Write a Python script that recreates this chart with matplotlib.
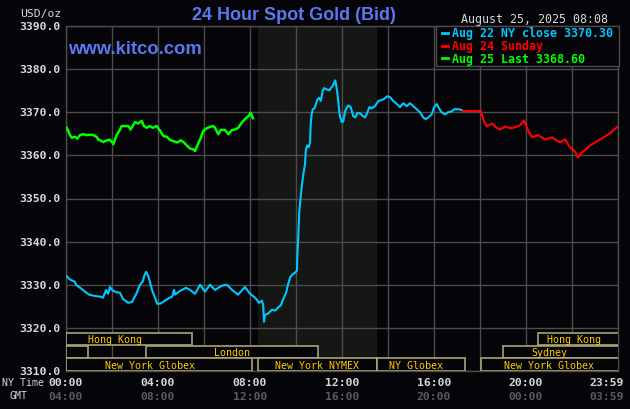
import matplotlib
matplotlib.use("Agg")
import matplotlib.pyplot as plt
import matplotlib.patches as pat

# Aug 22 (NY close) -- hours of NY time, price
blue_h = [0.00, 0.17, 0.39, 0.43, 0.61, 0.83, 1.00, 1.26, 1.52, 1.61, 1.74, 1.83, 1.91, 2.00,
          2.13, 2.35, 2.48, 2.70, 2.87, 3.04, 3.22, 3.35, 3.39, 3.48, 3.57, 3.65, 3.74, 3.87,
          3.96, 4.09, 4.22, 4.35, 4.52, 4.61, 4.70, 4.74, 4.91, 5.04, 5.22, 5.39, 5.61, 5.83,
          6.04, 6.26, 6.48, 6.78, 7.00, 7.22, 7.48, 7.78, 8.00, 8.22, 8.30, 8.39, 8.52, 8.57,
          8.61, 8.65, 8.78, 8.96, 9.09, 9.22, 9.35, 9.43, 9.57, 9.65, 9.74, 9.83, 9.96, 10.04,
          10.06, 10.10, 10.14, 10.20, 10.26, 10.32, 10.39, 10.43, 10.49, 10.55, 10.61, 10.64,
          10.68, 10.73, 10.80, 10.87, 10.93, 11.01, 11.07, 11.12, 11.16, 11.22, 11.33, 11.45,
          11.55, 11.62, 11.67, 11.70, 11.74, 11.80, 11.84, 11.88, 11.91, 11.99, 12.06, 12.13,
          12.27, 12.38, 12.49, 12.57, 12.67, 12.78, 12.86, 13.00, 13.07, 13.19, 13.29, 13.43,
          13.58, 13.80, 13.97, 14.09, 14.23, 14.38, 14.45, 14.52, 14.67, 14.81, 14.96, 15.10,
          15.25, 15.39, 15.53, 15.64, 15.75, 15.90, 16.01, 16.12, 16.22, 16.33, 16.48, 16.62,
          16.77, 16.88, 17.06, 17.20, 17.27]
blue_p = [3332.1, 3331.2, 3330.7, 3330.0, 3329.3, 3328.4, 3327.7, 3327.4, 3327.2, 3327.0, 3328.8,
          3327.9, 3329.5, 3328.8, 3328.4, 3328.1, 3326.7, 3325.8, 3326.0, 3327.7, 3330.0, 3330.9,
          3331.9, 3333.0, 3332.1, 3330.7, 3328.8, 3327.0, 3325.6, 3325.6, 3326.0, 3326.5, 3327.0,
          3327.2, 3328.8, 3327.7, 3328.4, 3328.8, 3329.3, 3328.8, 3327.9, 3330.0, 3328.4, 3330.0,
          3328.8, 3329.8, 3330.0, 3328.8, 3327.7, 3329.5, 3327.9, 3327.0, 3326.5, 3325.8, 3326.3,
          3325.3, 3321.4, 3323.0, 3323.3, 3324.2, 3324.0, 3324.7, 3325.3, 3326.5, 3328.1, 3330.0,
          3331.6, 3332.3, 3332.8, 3333.3, 3337.0, 3341.2, 3346.7, 3350.2, 3353.3, 3355.6, 3357.9,
          3361.4, 3362.3, 3361.9, 3363.0, 3367.2, 3369.5, 3370.7, 3370.9, 3371.9, 3373.0, 3373.3,
          3372.6, 3373.7, 3374.9, 3375.6, 3375.3, 3375.1, 3375.8, 3376.3, 3377.0, 3377.4, 3376.5,
          3374.4, 3372.3, 3370.2, 3369.1, 3367.7, 3367.9, 3370.2, 3371.6, 3371.2, 3369.1, 3368.8,
          3369.8, 3369.8, 3369.3, 3368.8, 3369.5, 3371.2, 3370.9, 3371.4, 3372.6, 3373.0, 3373.7,
          3373.5, 3372.6, 3371.9, 3371.6, 3371.2, 3372.1, 3371.4, 3372.1, 3371.4, 3370.7, 3370.0,
          3368.8, 3368.4, 3368.8, 3369.5, 3371.2, 3371.9, 3370.9, 3370.0, 3369.5, 3370.0, 3370.2,
          3370.7, 3370.7, 3370.5, 3370.3]

# Aug 24 Sunday
red_h = [17.27, 18.04, 18.17, 18.30, 18.52, 18.70, 18.87, 19.09, 19.30, 19.52, 19.74, 19.91,
         20.09, 20.26, 20.52, 20.83, 21.13, 21.48, 21.70, 21.91, 22.13, 22.26, 22.43, 22.61,
         22.78, 23.00, 23.22, 23.43, 23.65, 23.83, 24.00]
red_p = [3370.3, 3370.3, 3367.9, 3366.7, 3367.4, 3366.5, 3366.0, 3366.7, 3366.3, 3366.5, 3367.0,
         3368.1, 3365.8, 3364.2, 3364.7, 3363.7, 3364.2, 3363.0, 3363.7, 3361.9, 3360.9, 3359.5,
         3360.7, 3361.4, 3362.3, 3363.0, 3363.7, 3364.4, 3365.1, 3366.0, 3366.7]

# Aug 25 (today)
green_h = [0.03, 0.10, 0.17, 0.25, 0.39, 0.49, 0.61, 0.75, 0.90, 1.04, 1.19, 1.33, 1.40, 1.55,
           1.62, 1.77, 1.91, 2.01, 2.06, 2.13, 2.20, 2.32, 2.42, 2.57, 2.71, 2.81, 2.90, 3.00,
           3.14, 3.29, 3.39, 3.51, 3.65, 3.77, 3.94, 4.09, 4.23, 4.38, 4.52, 4.67, 4.84, 4.99,
           5.13, 5.25, 5.39, 5.53, 5.61, 5.71, 5.83, 5.97, 6.12, 6.26, 6.40, 6.48, 6.62, 6.73,
           6.91, 7.06, 7.20, 7.35, 7.49, 7.64, 7.78, 7.93, 8.03, 8.13]
green_p = [3366.4, 3365.7, 3364.7, 3364.1, 3364.3, 3363.9, 3364.7, 3364.9, 3364.7, 3364.8, 3364.7,
           3364.3, 3363.7, 3363.3, 3363.1, 3363.5, 3363.6, 3363.0, 3362.6, 3363.7, 3364.7, 3365.7,
           3366.8, 3366.8, 3366.8, 3366.0, 3366.8, 3367.7, 3367.4, 3368.0, 3366.8, 3366.4, 3366.8,
           3366.4, 3366.8, 3365.7, 3364.5, 3364.3, 3363.6, 3363.3, 3363.0, 3363.5, 3363.0, 3362.3,
           3361.6, 3361.4, 3361.0, 3362.3, 3363.7, 3365.7, 3366.3, 3366.6, 3366.8, 3366.4, 3364.9,
           3365.9, 3365.9, 3364.9, 3365.8, 3366.0, 3366.4, 3367.6, 3368.4, 3369.1, 3369.9, 3368.6]

legend_labels = ["Aug 22 NY close 3370.30", "Aug 24 Sunday", "Aug 25 Last 3368.60"]
y_ticks = [3310, 3320, 3330, 3340, 3350, 3360, 3370, 3380, 3390]
ny_ticks = [0, 4, 8, 12, 16, 20]
ny_labels = ["00:00", "04:00", "08:00", "12:00", "16:00", "20:00"]
gmt_labels = ["04:00", "08:00", "12:00", "16:00", "20:00", "00:00"]
nymex_span = (8.33, 13.5)

# trading sessions: (row, start, end, label, label_x)
sessions = [
    (0, 0.0, 5.48, "Hong Kong", 2.13),
    (0, 20.5, 24.3, "Hong Kong", 22.1),
    (1, 0.0, 0.96, "", 0),
    (1, 3.48, 10.96, "London", 7.2),
    (1, 19.0, 24.3, "Sydney", 21.0),
    (2, 0.0, 8.1, "New York Globex", 3.65),
    (2, 8.33, 13.5, "New York NYMEX", 10.9),
    (2, 13.5, 17.35, "NY Globex", 15.2),
    (2, 18.05, 24.3, "New York Globex", 21.0),
]
row_y = [(3316.1, 3318.9), (3313.1, 3315.9), (3310.1, 3312.9)]

BG = "#050408"
GRID = "#4c4c4c"
BLUE = "#00c8ff"
RED = "#ff0000"
GREEN = "#00ff00"
GOLD = "#ffcc00"
BOX = "#a8a474"
TXT = "#d8d8d8"
MONO = "DejaVu Sans Mono"

W, H = 630, 410
fig = plt.figure(figsize=(W / 100, H / 100), dpi=100, facecolor=BG)
ax = fig.add_axes([66 / W, 1 - 372 / H, 552 / W, 345 / H])
ax.set_facecolor(BG)
ax.set_xlim(0, 24)
ax.set_ylim(3310, 3390)
ax.set_xticks(range(0, 25, 2))
ax.set_yticks(y_ticks)
ax.tick_params(length=0, labelbottom=False, labelleft=False)
ax.grid(True, color=GRID, lw=1.0)
for s in ax.spines.values():
    s.set_color(GRID)
    s.set_linewidth(1.0)

ax.axvspan(*nymex_span, color="#141714", zorder=0.5, lw=0)

for (row, a, b, lab, lx) in sessions:
    y0, y1 = row_y[row]
    ax.add_patch(pat.Rectangle((a, y0), b - a, y1 - y0, facecolor=BG, edgecolor=BOX,
                               lw=1.2, zorder=3, clip_on=True))
    if lab:
        ax.text(lx, (y0 + y1) / 2, lab, color=GOLD, fontsize=7.2, family=MONO,
                ha="center", va="center", zorder=4)

ax.plot(blue_h, blue_p, color=BLUE, lw=1.5, zorder=5)
ax.plot(red_h, red_p, color=RED, lw=1.5, zorder=5)
ax.plot(green_h, green_p, color=GREEN, lw=1.8, zorder=5)

# overlay in pixel coords for the labels
ov = fig.add_axes([0, 0, 1, 1])
ov.set_xlim(0, W)
ov.set_ylim(H, 0)
ov.axis("off")
ov.patch.set_alpha(0)

ov.text(294, 15, "24 Hour Spot Gold (Bid)", color="#5a78f0", fontsize=13,
        family="Liberation Sans", weight="bold", ha="center", va="center")
ov.text(68, 49, "www.kitco.com", color="#5a78f0", fontsize=13.3,
        family="Liberation Sans", weight="bold", ha="left", va="center")
ov.text(608, 20, "August 25, 2025 08:08", color=TXT, fontsize=8.4, family=MONO,
        ha="right", va="center")
ov.text(61, 14, "USD/oz", color=TXT, fontsize=8.2, family=MONO, ha="right", va="center")

for v in y_ticks:
    yp = 27 + (3390 - v) * 345 / 80
    ov.text(61, yp, "%.1f" % v, color=TXT, fontsize=8.2, family=MONO, weight="bold",
            ha="right", va="center")

for t, a, g in zip(ny_ticks, ny_labels, gmt_labels):
    xp = 66 + t * 23
    ov.text(xp, 383, a, color=TXT, fontsize=8.2, family=MONO, weight="bold",
            ha="center", va="center")
    ov.text(xp, 397, g, color="#5c5c5c", fontsize=8.2, family=MONO, weight="bold",
            ha="center", va="center")
ov.text(624, 383, "23:59", color=TXT, fontsize=8.2, family=MONO, weight="bold",
        ha="right", va="center")
ov.text(624, 397, "03:59", color="#5c5c5c", fontsize=8.2, family=MONO, weight="bold",
        ha="right", va="center")
ov.text(2, 383, "NY Time", color=TXT, fontsize=7.1, family=MONO, ha="left", va="center")
ov.text(10, 396, "GMT", color=TXT, fontsize=7.1, family=MONO, ha="left", va="center")

# legend box
ov.add_patch(pat.Rectangle((436, 27), 183, 40, facecolor=BG, edgecolor=GRID, lw=1.0))
for i, (lab, c) in enumerate(zip(legend_labels, [BLUE, RED, GREEN])):
    yp = 34 + i * 12.7
    ov.plot([442, 448], [yp, yp], color=c, lw=2)
    ov.text(452, yp, lab, color=c, fontsize=8.4, family=MONO, weight="bold",
            ha="left", va="center")

fig.savefig("out.png", dpi=100, facecolor=BG)
